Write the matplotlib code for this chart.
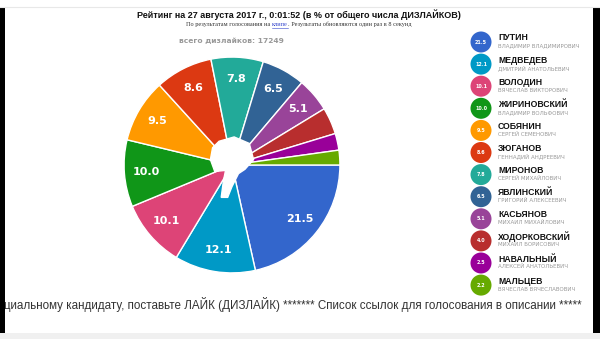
import matplotlib
matplotlib.use("Agg")
import matplotlib.pyplot as plt
from matplotlib.patches import Circle, Rectangle, Polygon
import numpy as np

plt.rcParams['font.family'] = ['DejaVu Sans']

# data
names = ["ПУТИН", "МЕДВЕДЕВ", "ВОЛОДИН", "ЖИРИНОВСКИЙ", "СОБЯНИН", "ЗЮГАНОВ",
         "МИРОНОВ", "ЯВЛИНСКИЙ", "КАСЬЯНОВ", "ХОДОРКОВСКИЙ", "НАВАЛЬНЫЙ", "МАЛЬЦЕВ"]
patronyms = ["ВЛАДИМИР ВЛАДИМИРОВИЧ", "ДМИТРИЙ АНАТОЛЬЕВИЧ", "ВЯЧЕСЛАВ ВИКТОРОВИЧ",
             "ВЛАДИМИР ВОЛЬФОВИЧ", "СЕРГЕЙ СЕМЕНОВИЧ", "ГЕННАДИЙ АНДРЕЕВИЧ",
             "СЕРГЕЙ МИХАЙЛОВИЧ", "ГРИГОРИЙ АЛЕКСЕЕВИЧ", "МИХАИЛ МИХАЙЛОВИЧ",
             "МИХАИЛ БОРИСОВИЧ", "АЛЕКСЕЙ АНАТОЛЬЕВИЧ", "ВЯЧЕСЛАВ ВЯЧЕСЛАВОВИЧ"]
values = [21.5, 12.1, 10.1, 10.0, 9.5, 8.6, 7.8, 6.5, 5.1, 4.0, 2.5, 2.2]
colors = ["#3366cc", "#0099c6", "#dd4477", "#109618", "#ff9900", "#dc3912",
          "#22aa99", "#316395", "#994499", "#b82e2e", "#990099", "#66aa00"]
total_dislikes = 17249

fig = plt.figure(figsize=(6, 3.39), dpi=100)

# overlay axes in pixel coordinates
ax = fig.add_axes([0, 0, 1, 1])
ax.set_xlim(0, 600)
ax.set_ylim(339, 0)
ax.axis('off')

# pie
cx, cy, r = 232, 165, 109
axp = fig.add_axes([(cx - r) / 600, 1 - (cy + r) / 339, 2 * r / 600, 2 * r / 339])
wedges, _ = axp.pie(values, colors=colors, startangle=0, counterclock=False,
                    wedgeprops=dict(edgecolor='white', linewidth=1))
axp.set_xlim(-1.01, 1.01)
axp.set_ylim(-1.01, 1.01)
axp.set_aspect('equal')

for v, w in zip(values, wedges):
    mid = np.deg2rad((w.theta1 + w.theta2) / 2)
    if v >= 5:
        axp.text(0.8 * np.cos(mid), 0.8 * np.sin(mid), f"{v:.1f}", color='white',
                 fontsize=8, fontweight='bold', ha='center', va='center')

# white dislike icon in the centre
blob = Polygon([(-0.12, 0.22), (0.02, 0.26), (0.16, 0.2), (0.2, 0.05), (0.12, -0.04),
                (0.06, -0.08), (0.0, -0.2), (-0.04, -0.3), (-0.1, -0.3), (-0.08, -0.15),
                (-0.06, -0.05), (-0.16, -0.06), (-0.2, 0.05), (-0.18, 0.16)],
               closed=True, facecolor='white', edgecolor='white', zorder=5)
axp.add_patch(blob)

# title texts
ax.text(299, 15, "Рейтинг на 27 августа 2017 г., 0:01:52 (в % от общего числа ДИЗЛАЙКОВ)",
        fontsize=6.5, fontweight='bold', ha='center', va='center', color='#111111',
        family='Liberation Sans')
fig.canvas.draw()
rend = fig.canvas.get_renderer()
parts = [("По результатам голосования на ", '#333333', False),
         ("клипе", '#3344cc', True),
         (". Результаты обновляются один раз в 8 секунд", '#333333', False)]
sub_texts = []
widths = []
for s, c, u in parts:
    t = ax.text(0, 24.5, s, fontsize=4.5, family='Liberation Serif', color=c, ha='left', va='center')
    sub_texts.append(t)
    widths.append(t.get_window_extent(rend).width)
x0 = 299 - sum(widths) / 2
for t, wdt, (s, c, u) in zip(sub_texts, widths, parts):
    t.set_x(x0)
    if u:
        ax.plot([x0, x0 + wdt], [27.5, 27.5], color=c, lw=0.4)
    x0 += wdt

ax.text(231, 41, f"всего дизлайков: {total_dislikes}", fontsize=5.4, fontweight='bold',
        color='#999999', ha='center', va='center')

# legend
for i, (n, p, v, c) in enumerate(zip(names, patronyms, values, colors)):
    y = 42 + i * 22.1
    ax.add_patch(Circle((481, y), 10.5, facecolor=c, edgecolor='none'))
    ax.text(481, y, f"{v:.1f}", fontsize=3.5, fontweight='bold', color='white',
            ha='center', va='center')
    ax.text(498, y - 4, n, fontsize=6.2, fontweight='bold', color='#111111',
            ha='left', va='center', family='Liberation Sans')
    ax.text(498, y + 4, p, fontsize=4, color='#999999', ha='left', va='center')

# bottom ticker
ax.text(4, 305, "циальному кандидату, поставьте ЛАЙК (ДИЗЛАЙК) ******* Список ссылок для голосования в описании *****",
        fontsize=8.4, color='#333333', ha='left', va='center', family='Liberation Sans')

# frame: black side bars and grey strips
ax.add_patch(Rectangle((0, 7), 5, 326, facecolor='black', edgecolor='none', zorder=10))
ax.add_patch(Rectangle((593, 7), 7, 326, facecolor='black', edgecolor='none', zorder=10))
ax.add_patch(Rectangle((0, 333), 600, 6, facecolor='#f0f0f0', edgecolor='none', zorder=10))
ax.plot([0, 600], [7, 7], color='#e8e8e8', lw=0.8, zorder=10)

fig.savefig("out.png", dpi=100)
